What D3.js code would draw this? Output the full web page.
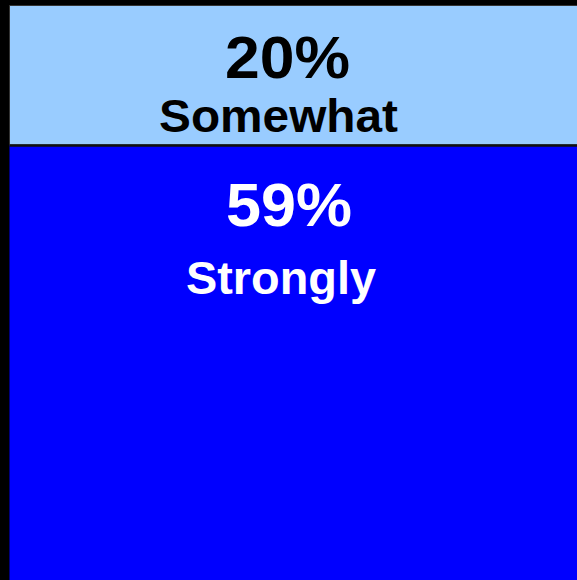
<!DOCTYPE html>
<html><head><meta charset="utf-8">
<script src="https://cdn.jsdelivr.net/npm/d3@7"></script>
<style>html,body{margin:0;padding:0;background:#000;overflow:hidden}</style>
</head><body>
<script>
const categories = ["Somewhat", "Strongly"];
const values = [20, 59];
const valueLabels = ["20%", "59%"];
const colors = ["#99CCFF", "#0000FF"];
const textColors = ["#000000", "#FFFFFF"];

const W = 577, H = 580;
const svg = d3.select("body").append("svg").attr("width", W).attr("height", H)
  .style("display","block");
svg.append("rect").attr("width", W).attr("height", H).attr("fill", "#000");

const total = d3.sum(values);
const barTop = 5.5, pxPer = 6.975;
const y = d3.scaleLinear().domain([total, 0]).range([barTop, barTop + total * pxPer]);
const x0 = 9.5, x1 = 600;

let cum = total;
const segs = categories.map((c, i) => {
  const hi = cum, lo = cum - values[i];
  cum = lo;
  return {c, i, hi, lo};
});

segs.forEach(s => {
  const yTop = y(s.hi);
  const yBot = s.i === segs.length - 1 ? Math.max(y(s.lo), H + 10) : y(s.lo);
  svg.append("rect")
    .attr("x", x0).attr("y", yTop)
    .attr("width", x1 - x0).attr("height", yBot - yTop)
    .attr("fill", colors[s.i])
    .attr("stroke", s.i === 0 ? "#333" : "none").attr("stroke-width", 1);
});
// separator line between segments
svg.append("line")
  .attr("x1", x0).attr("x2", x1)
  .attr("y1", y(segs[0].lo) + 0.5).attr("y2", y(segs[0].lo) + 0.5)
  .attr("stroke", "#111").attr("stroke-width", 2.5);

// text layout (positions relative to segment top)
const pctLayout = [{x: 287.5, dy: 72, len: 125, fs: 60}, {x: 289, dy: 81, len: 126, fs: 61}];
const labLayout = [{x: 278.5, dy: 126.5, len: 239, fs: 47}, {x: 281, dy: 149, len: 190, fs: 46}];
segs.forEach(s => {
  const yTop = y(s.hi);
  const p = pctLayout[s.i], l = labLayout[s.i];
  svg.append("text").attr("x", p.x).attr("y", yTop + p.dy)
    .attr("text-anchor", "middle")
    .attr("font-family", "Liberation Sans, Arial, sans-serif")
    .attr("font-weight", "bold").attr("font-size", p.fs)
    .attr("textLength", p.len).attr("lengthAdjust", "spacingAndGlyphs")
    .attr("fill", textColors[s.i]).text(valueLabels[s.i]);
  svg.append("text").attr("x", l.x).attr("y", yTop + l.dy)
    .attr("text-anchor", "middle")
    .attr("font-family", "Liberation Sans, Arial, sans-serif")
    .attr("font-weight", "bold").attr("font-size", l.fs)
    .attr("textLength", l.len).attr("lengthAdjust", "spacingAndGlyphs")
    .attr("fill", textColors[s.i]).text(s.c);
});
</script>
</body></html>
